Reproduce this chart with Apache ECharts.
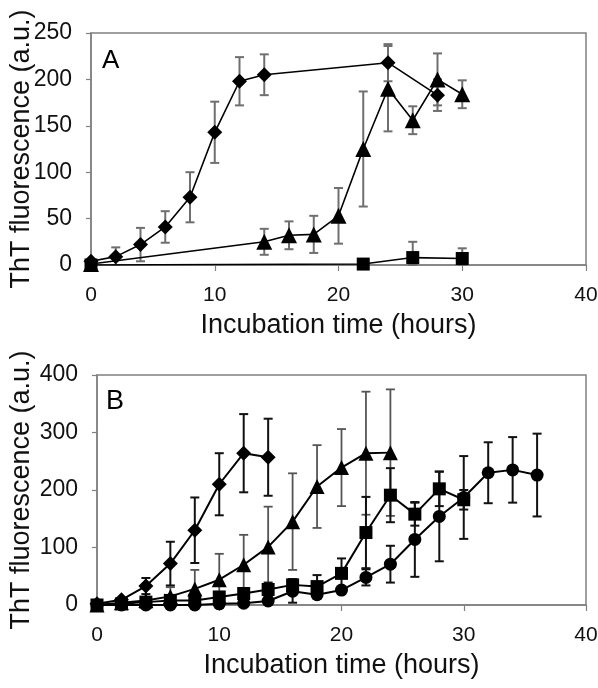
<!DOCTYPE html>
<html>
<head>
<meta charset="utf-8">
<script src="https://cdn.jsdelivr.net/npm/echarts@6/dist/echarts.min.js"></script>
<style>html,body{margin:0;padding:0;background:#fff;}#c{width:598px;height:688px;}</style>
</head>
<body>
<div id="c"></div>
<script>
// ---------- Panel A data ----------
var aDiamondX = [0, 2, 4, 6, 8, 10, 12, 14, 24, 28];
var aDiamondY = [4, 9, 22, 41, 73, 143, 198, 205, 218, 183];
var aDiamondE = [0, 10, 18, 17, 27, 33, 26, 22, 20, 17];

var aTriX = [0, 14, 16, 18, 20, 22, 24, 26, 28, 30];
var aTriY = [1, 25, 32, 33, 53, 125, 190, 156, 200, 184];
var aTriE = [0, 14, 15, 20, 30, 62, 46, 15, 28, 15];

var aSqX = [0, 22, 26, 30];
var aSqY = [0, 1, 8, 7];
var aSqE = [0, 0, 17, 11];

// ---------- Panel B data ----------
var bDiamondX = [0, 2, 4, 6, 8, 10, 12, 14];
var bDiamondY = [2, 9, 33, 72, 130, 210, 264, 257];
var bDiamondE = [0, 0, 14, 38, 57, 54, 68, 67];

var bTriX = [0, 2, 4, 6, 8, 10, 12, 14, 16, 18, 20, 22, 24];
var bTriY = [0, 4, 8, 15, 28, 44, 70, 101, 145, 206, 239, 264, 265];
var bTriE = [0, 0, 0, 16, 33, 45, 52, 70, 84, 72, 67, 107, 110];

var bSqX = [0, 2, 4, 6, 8, 10, 12, 14, 16, 18, 20, 22, 24, 26, 28, 30];
var bSqY = [0, 2, 5, 8, 8, 14, 20, 27, 35, 32, 55, 126, 191, 158, 202, 183];
var bSqE = [0, 0, 0, 0, 0, 5, 8, 12, 10, 20, 26, 62, 47, 20, 30, 17];

var bCircX = [0, 2, 4, 6, 8, 10, 12, 14, 16, 18, 20, 22, 24, 26, 28, 30, 32, 34, 36];
var bCircY = [0, 0, 0, 0, 0, 2, 3, 7, 24, 18, 26, 48, 71, 114, 154, 187, 230, 235, 226];
var bCircE = [0, 0, 0, 0, 0, 0, 0, 0, 20, 0, 0, 14, 32, 65, 78, 72, 53, 57, 72];

// ---------- ticks / labels ----------
var xTicks = {min: 0, max: 40, interval: 10};
var aYTicks = {min: 0, max: 250, interval: 50};
var bYTicks = {min: 0, max: 400, interval: 100};
var yTitle = 'ThT fluorescence (a.u.)';
var xTitle = 'Incubation time (hours)';
var panelLabels = ['A', 'B'];

function pts(xs, ys) { return xs.map(function (x, i) { return [x, ys[i]]; }); }
function errs(xs, ys, es) {
  var out = [];
  xs.forEach(function (x, i) {
    if (es[i] > 0) out.push([x, Math.max(0, ys[i] - es[i]), ys[i] + es[i]]);
  });
  return out;
}

var FONT = '"Liberation Sans", Arial, sans-serif';
var gray = '#808080';

function errSeries(idx, data, color, width) {
  return {
    type: 'custom', xAxisIndex: idx, yAxisIndex: idx, z: 1, silent: true,
    data: data, encode: {x: 0, y: [1, 2]},
    renderItem: function (params, api) {
      var x = api.value(0);
      var lo = api.coord([x, api.value(1)]);
      var hi = api.coord([x, api.value(2)]);
      var hw = 4.5;
      var st = {stroke: color, lineWidth: width};
      return {type: 'group', children: [
        {type: 'line', shape: {x1: lo[0], y1: lo[1], x2: hi[0], y2: hi[1]}, style: st},
        {type: 'line', shape: {x1: hi[0] - hw, y1: hi[1], x2: hi[0] + hw, y2: hi[1]}, style: st},
        {type: 'line', shape: {x1: lo[0] - hw, y1: lo[1], x2: lo[0] + hw, y2: lo[1]}, style: st}
      ]};
    }
  };
}

function lineSeries(idx, data, symbol, size, lw) {
  return {
    type: 'line', xAxisIndex: idx, yAxisIndex: idx, z: 3, data: data,
    symbol: symbol, symbolSize: size, showAllSymbol: true,
    lineStyle: {color: '#000', width: lw},
    itemStyle: {color: '#000', borderWidth: 0},
    animation: false
  };
}

var diamondPath = 'path://M0,-10L10,0L0,10L-10,0Z';

function xAxisDef(idx) {
  return {
    gridIndex: idx, type: 'value', min: xTicks.min, max: xTicks.max, interval: xTicks.interval,
    name: xTitle, nameLocation: 'middle', nameGap: 47, nameMoveOverlap: false,
    nameTextStyle: {fontFamily: FONT, fontSize: 27, color: '#111'},
    axisLine: {show: true, lineStyle: {color: gray, width: 1.5}},
    axisTick: {show: true, inside: false, length: 6, lineStyle: {color: gray, width: 1.2}},
    axisLabel: {fontFamily: FONT, fontSize: 21, color: '#111', margin: 20},
    splitLine: {show: false}
  };
}
function yAxisDef(idx, t, gap) {
  return {
    gridIndex: idx, type: 'value', min: t.min, max: t.max, interval: t.interval,
    name: yTitle, nameLocation: 'middle', nameGap: gap, nameRotate: 90, nameMoveOverlap: false,
    nameTextStyle: {fontFamily: FONT, fontSize: 27, color: '#111'},
    axisLine: {show: true, lineStyle: {color: gray, width: 1.5}},
    axisTick: {show: true, inside: false, length: 5, lineStyle: {color: gray, width: 1.2}},
    axisLabel: {fontFamily: FONT, fontSize: 23, color: '#111', margin: 19},
    splitLine: {show: false}
  };
}

var chart = echarts.init(document.getElementById('c'), null, {renderer: 'canvas'});
chart.setOption({
  animation: false,
  backgroundColor: '#fff',
  grid: [
    {left: 91, right: 12, top: 33, height: 232, show: true, borderColor: gray, borderWidth: 1.5, backgroundColor: 'transparent', containLabel: false, outerBoundsMode: 'none'},
    {left: 97, right: 12, top: 375, height: 230, show: true, borderColor: gray, borderWidth: 1.5, backgroundColor: 'transparent', containLabel: false, outerBoundsMode: 'none'}
  ],
  xAxis: [xAxisDef(0), xAxisDef(1)],
  yAxis: [yAxisDef(0, aYTicks, 56), yAxisDef(1, bYTicks, 62)],
  graphic: [
    {type: 'text', left: 102, top: 48, style: {text: panelLabels[0], font: '26px ' + FONT, fill: '#000'}},
    {type: 'text', left: 106, top: 388, style: {text: panelLabels[1], font: '27px ' + FONT, fill: '#000'}}
  ],
  series: [
    errSeries(0, errs(aSqX, aSqY, aSqE), '#6f6f6f', 2),
    errSeries(0, errs(aTriX, aTriY, aTriE), '#6f6f6f', 2),
    errSeries(0, errs(aDiamondX, aDiamondY, aDiamondE), '#6f6f6f', 2),
    lineSeries(0, pts(aSqX, aSqY), 'rect', 13, 1.6),
    lineSeries(0, pts(aTriX, aTriY), 'triangle', 16, 1.6),
    lineSeries(0, pts(aDiamondX, aDiamondY), diamondPath, 15, 1.6),

    errSeries(1, errs(bTriX, bTriY, bTriE), '#555', 1.8),
    errSeries(1, errs(bCircX, bCircY, bCircE), '#111', 2),
    errSeries(1, errs(bSqX, bSqY, bSqE), '#111', 2),
    errSeries(1, errs(bDiamondX, bDiamondY, bDiamondE), '#111', 2),
    lineSeries(1, pts(bCircX, bCircY), 'circle', 13, 2),
    lineSeries(1, pts(bSqX, bSqY), 'rect', 13, 2),
    lineSeries(1, pts(bTriX, bTriY), 'triangle', 15, 2),
    lineSeries(1, pts(bDiamondX, bDiamondY), diamondPath, 15, 2)
  ]
});
</script>
</body>
</html>
